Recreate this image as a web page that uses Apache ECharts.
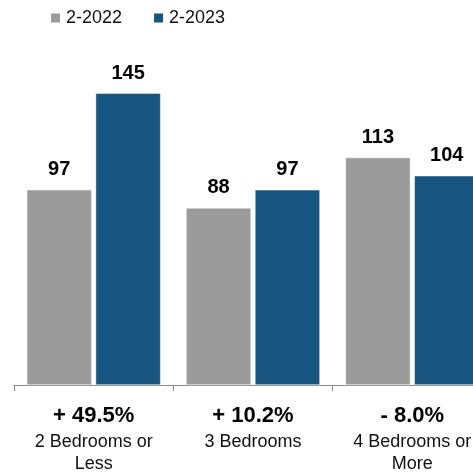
<!DOCTYPE html>
<html>
<head>
<meta charset="UTF-8">
<title>Bedrooms</title>
<script src="https://cdn.jsdelivr.net/npm/echarts@6/dist/echarts.min.js"></script>
<style>
body{margin:0;overflow:hidden;background:#fff}
</style>
</head>
<body>
<!-- plot is a bit wider than the window, the last group is cut on the right -->
<div id="chart" style="width:493px;height:475px"></div>
<script type="text/javascript">
var categories=['2 Bedrooms or\nLess','3 Bedrooms','4 Bedrooms or\nMore'];
var changes=['+ 49.5%','+ 10.2%','- 8.0%'];
var seriesNames=['2-2022','2-2023'];
var values2022=[97,88,113];
var values2023=[145,97,104];

var mychart=echarts.init(document.getElementById('chart'));
var labelStyle={
	show:true,
	position:'top',
	distance:10,
	color:'#000',
	fontSize:20,
	fontWeight:'bold',
	fontFamily:'Liberation Sans, Arial, sans-serif'
};
var option={
	animation:false,
	textStyle:{fontFamily:'Liberation Sans, Arial, sans-serif'},
	legend:{
		left:44,
		top:4,
		icon:'rect',
		itemWidth:11,
		itemHeight:11,
		itemGap:30,
		textStyle:{fontSize:18,color:'#111'},
		data:seriesNames
	},
	grid:{left:14,right:1,top:63,bottom:90},
	xAxis:{
		type:'category',
		data:categories,
		axisLine:{lineStyle:{color:'#8c8c8c',width:1}},
		axisTick:{show:true,alignWithLabel:false,length:6,lineStyle:{color:'#8c8c8c'}},
		axisLabel:{
			interval:0,
			margin:15,
			formatter:function(v,i){
				return '{a|'+changes[i]+'}\n{b|'+v+'}';
			},
			rich:{
				a:{fontSize:22,fontWeight:'bold',color:'#000',lineHeight:31},
				b:{fontSize:18,color:'#111',lineHeight:22}
			}
		}
	},
	yAxis:{type:'value',min:0,max:160,show:false,splitLine:{show:false}},
	series:[{
		name:seriesNames[0],
		type:'bar',
		data:values2022,
		barWidth:65,
		barGap:'6%',
		itemStyle:{color:'#9b9b9b',borderColor:'#fff',borderWidth:0.5},
		label:labelStyle
	},{
		name:seriesNames[1],
		type:'bar',
		data:values2023,
		barWidth:65,
		itemStyle:{color:'#17547f',borderColor:'#fff',borderWidth:0.5},
		label:labelStyle
	}]
};
mychart.setOption(option);
</script>
</body>
</html>
